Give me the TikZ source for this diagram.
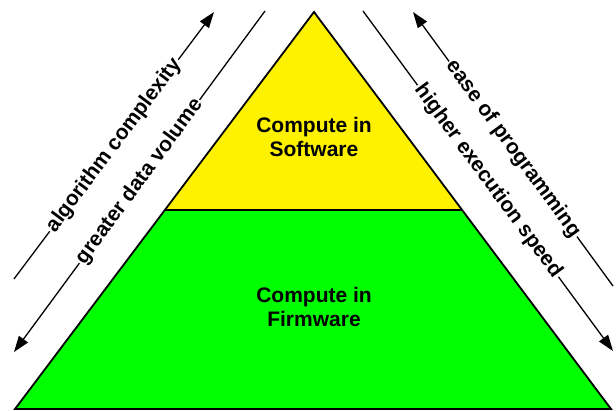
\documentclass[tikz,border=0pt]{standalone}
\usepackage{fontspec}
\setmainfont{Liberation Sans}
\usetikzlibrary{arrows.meta}
\begin{document}
\begin{tikzpicture}[x=1pt,y=-1pt,
  lbl/.style={font=\bfseries\fontsize{21}{24}\selectfont,align=center},
  sidelbl/.style={font=\bfseries\fontsize{21}{24}\selectfont,fill=white,inner sep=1.5pt,sloped,midway},
  guide/.style={line width=1.3pt,black},
  tip/.style={-{Triangle[length=16pt,width=11pt]}},
  edge/.style={line width=1.8pt,black,line join=miter}]
\useasboundingbox (0,0) rectangle (616,411);
% triangle corners
\coordinate (apex) at (314,12);
\coordinate (bl) at (15,409);
\coordinate (br) at (611,409);
\coordinate (ml) at (165,210);
\coordinate (mr) at (462,210);
\fill[yellow] (apex) -- (ml) -- (mr) -- cycle;
\fill[green] (ml) -- (bl) -- (br) -- (mr) -- cycle;
\draw[edge] (ml) -- (mr);
\draw[edge] (apex) -- (bl) -- (br) -- cycle;
\node[lbl] (sw) at (314,137) {Compute in\\Software};
\node[lbl] (fw) at (314,307) {Compute in\\Firmware};
% guide lines
\coordinate (a1) at (14,279);
\coordinate (a2) at (214,12);
\coordinate (g1) at (265,11);
\coordinate (g2) at (14,352);
\coordinate (e1) at (613,286);
\coordinate (e2) at (413,12);
\coordinate (h1) at (363,11);
\coordinate (h2) at (613,351);
\draw[guide,tip] (a1) -- node[sidelbl] (alg) {algorithm complexity} (a2);
\draw[guide,tip] (g1) -- node[sidelbl] (gdv) {greater data volume} (g2);
\draw[guide,tip] (e1) -- node[sidelbl] (eop) {ease of programming} (e2);
\draw[guide,tip] (h1) -- node[sidelbl] (hes) {higher execution speed} (h2);
\end{tikzpicture}
\end{document}
